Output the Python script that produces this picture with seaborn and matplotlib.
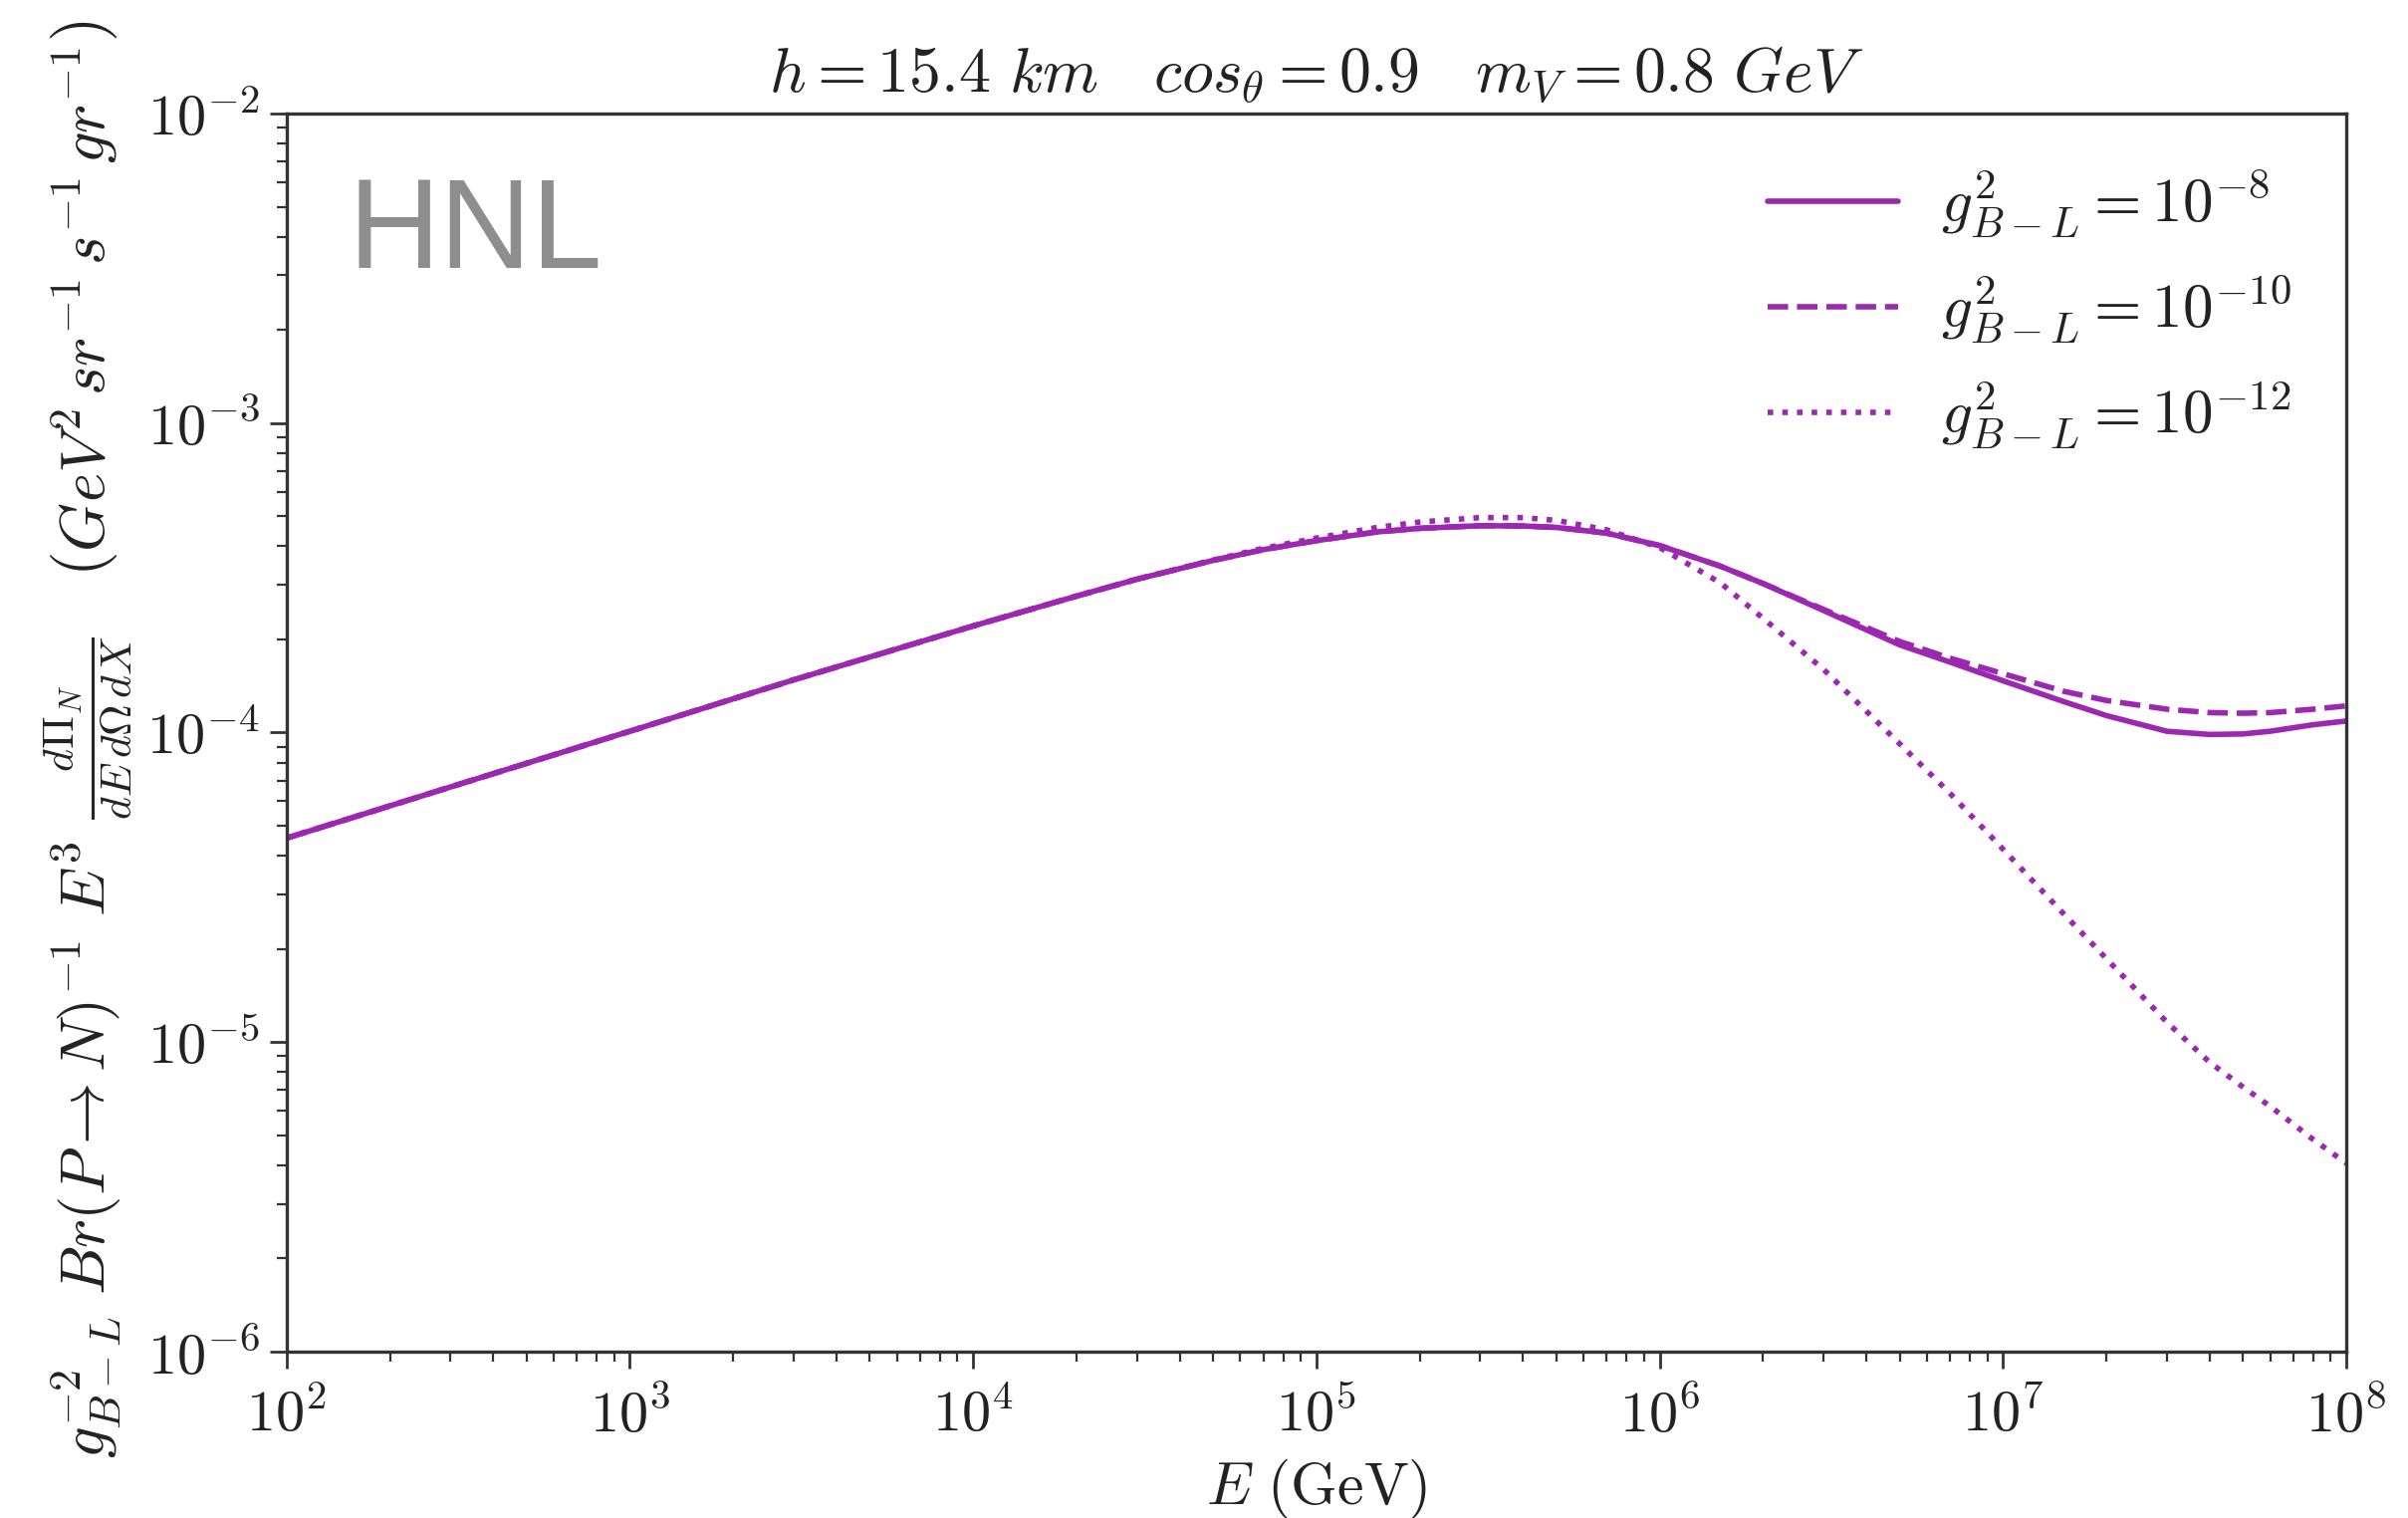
import numpy as np
import pandas as pd
import matplotlib
matplotlib.use("Agg")
import matplotlib.pyplot as plt
from matplotlib.ticker import FuncFormatter
import seaborn as sns

# ---- data (E in GeV) ----
E = [1e2, 3e2, 1e3, 3e3, 1e4, 2e4, 3e4, 5e4, 7e4, 1e5, 1.5e5, 2e5, 3e5, 4e5, 5e5,
     7e5, 1e6, 1.5e6, 2e6, 3e6, 5e6, 7e6, 1e7, 1.5e7, 2e7, 3e7, 4e7, 5e7, 6e7, 8e7, 1e8]

flux_g8 = [4.56e-5, 6.67e-5, 1.01e-4, 1.48e-4, 2.21e-4, 2.76e-4, 3.13e-4, 3.60e-4,
           3.90e-4, 4.17e-4, 4.45e-4, 4.57e-4, 4.66e-4, 4.65e-4, 4.60e-4, 4.41e-4,
           4.02e-4, 3.45e-4, 3.03e-4, 2.48e-4, 1.92e-4, 1.69e-4, 1.47e-4, 1.26e-4,
           1.135e-4, 1.01e-4, 9.86e-5, 9.9e-5, 1.01e-4, 1.06e-4, 1.09e-4]

flux_g10 = [4.56e-5, 6.67e-5, 1.01e-4, 1.48e-4, 2.21e-4, 2.76e-4, 3.13e-4, 3.60e-4,
            3.90e-4, 4.17e-4, 4.45e-4, 4.57e-4, 4.66e-4, 4.65e-4, 4.60e-4, 4.41e-4,
            4.02e-4, 3.45e-4, 3.03e-4, 2.50e-4, 1.97e-4, 1.74e-4, 1.55e-4, 1.36e-4,
            1.27e-4, 1.19e-4, 1.16e-4, 1.155e-4, 1.16e-4, 1.19e-4, 1.22e-4]

flux_g12 = [4.56e-5, 6.67e-5, 1.01e-4, 1.48e-4, 2.21e-4, 2.76e-4, 3.13e-4, 3.61e-4,
            3.94e-4, 4.25e-4, 4.60e-4, 4.79e-4, 4.95e-4, 4.95e-4, 4.85e-4, 4.52e-4,
            3.96e-4, 3.05e-4, 2.34e-4, 1.60e-4, 9.2e-5, 6.37e-5, 4.2e-5, 2.6e-5,
            1.86e-5, 1.16e-5, 8.6e-6, 7.16e-6, 6.2e-6, 4.85e-6, 4.06e-6]

labels = [r"$g^2_{B-L} = 10^{-8}$", r"$g^2_{B-L} = 10^{-10}$", r"$g^2_{B-L} = 10^{-12}$"]
styles = ["-", "--", ":"]
color = "#9c27b0"

sns.set_style("ticks")
plt.rcParams["mathtext.fontset"] = "cm"
plt.rcParams["font.family"] = ["DejaVu Serif"]

fig = plt.figure(figsize=(12.09, 7.62), dpi=200)
ax = fig.add_axes([0.119, 0.1096, 0.8554, 0.8156])

for vals, lab, ls in zip([flux_g8, flux_g10, flux_g12], labels, styles):
    df = pd.DataFrame({"E": E, "flux": vals})
    sns.lineplot(data=df, x="E", y="flux", ax=ax, color=color, linestyle=ls,
                 linewidth=2.0, label=lab)

ax.set_xscale("log")
ax.set_yscale("log")
ax.set_xlim(1e2, 1e8)
ax.set_ylim(1e-6, 1e-2)

pow_fmt = FuncFormatter(lambda v, pos: r"$10^{%d}$" % int(round(np.log10(v))))
ax.xaxis.set_major_formatter(pow_fmt)
ax.yaxis.set_major_formatter(pow_fmt)

for sp in ax.spines.values():
    sp.set_color("#333333")
    sp.set_linewidth(1.2)
ax.tick_params(which="major", labelsize=21, length=6, width=1.0, colors="#333333",
               labelcolor="#222222")
ax.tick_params(axis="x", which="major", pad=7)
ax.tick_params(which="minor", length=3.5, width=0.8, colors="#333333")

ax.set_title(r"$h = 15.4\ km \quad cos_{\theta} = 0.9 \quad m_V = 0.8\ GeV$",
             fontsize=23, pad=8, color="#222222")
ax.set_xlabel(r"$E\ (\mathrm{GeV})$", fontsize=21.5, color="#222222")
ax.xaxis.set_label_coords(0.5, -0.085)
ax.set_ylabel("")
fig.text(0.0365, 0.513,
         r"$g_{B-L}^{-2}\ Br(P\rightarrow N)^{-1}\ E^3\ \frac{d\Pi_N}{dE\,d\Omega\,dX}"
         r"\quad \left(GeV^2\, sr^{-1}\, s^{-1}\, gr^{-1}\right)$",
         fontsize=22.5, color="#222222", rotation=90, ha="center", va="center")

ax.text(0.03, 0.95, "HNL", transform=ax.transAxes, ha="left", va="top",
        fontsize=46, color="#8e8e8e", family="Liberation Sans")

leg = ax.legend(loc="upper right", frameon=False, fontsize=22, handlelength=2.15,
                handletextpad=0.7, labelspacing=0.55, borderaxespad=0.5)
for t in leg.get_texts():
    t.set_color("#222222")

fig.savefig("out.png", dpi=200)
